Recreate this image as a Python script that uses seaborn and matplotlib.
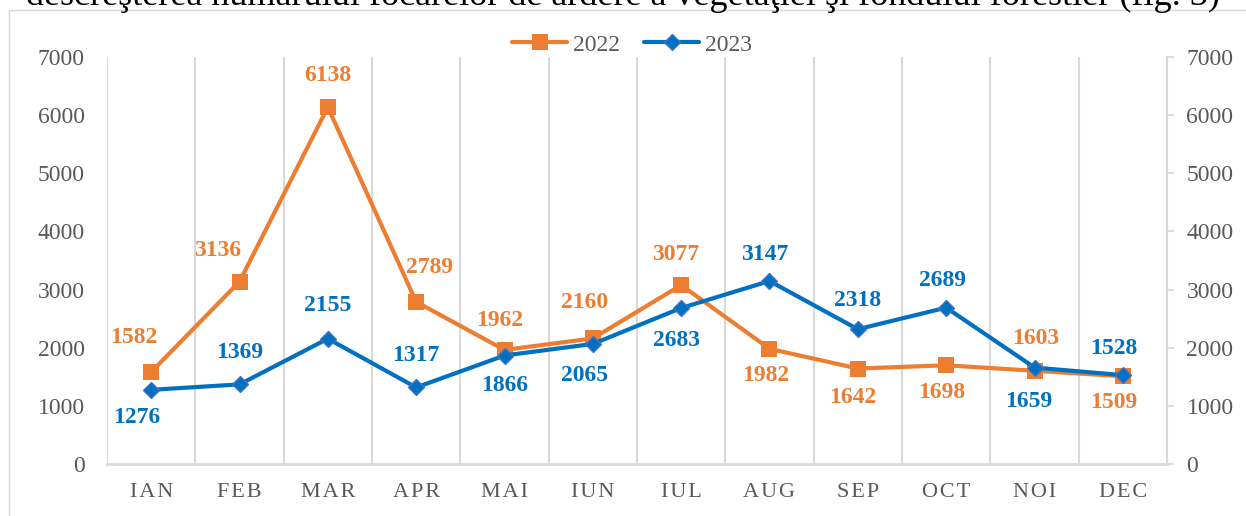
import numpy as np
import pandas as pd
import matplotlib
matplotlib.use("Agg")
import matplotlib.pyplot as plt
import seaborn as sns
from matplotlib.patches import Rectangle


# =========================
# DATA
# =========================
months = ["IAN", "FEB", "MAR", "APR", "MAI", "IUN", "IUL", "AUG", "SEP", "OCT", "NOI", "DEC"]
fires_2022 = [1582, 3136, 6138, 2789, 1962, 2160, 3077, 1982, 1642, 1698, 1603, 1509]
fires_2023 = [1276, 1369, 2155, 1317, 1866, 2065, 2683, 3147, 2318, 2689, 1659, 1528]
y_ticks = [0, 1000, 2000, 3000, 4000, 5000, 6000, 7000]
series_names = ["2022", "2023"]
caption = "descreşterea numărului focarelor de ardere a vegetaţiei şi fondului forestier (fig. 3)"

# label placement, pixels from the point (dx, dy), dy > 0 means below
offsets_2022 = [(-17, -35), (-22, -31), (0, -32), (13, -34), (-5, -29), (-8, -36),
                (-5, -31), (-4, 27), (-5, 29), (-4, 27), (1, -32), (-9, 26)]
offsets_2023 = [(-14, 28), (0, -32), (0, -33), (0, -32), (0, 30), (-8, 32),
                (-5, 32), (-5, -27), (0, -29), (-4, -27), (-6, 34), (-9, -27)]

ORANGE = "#ED7D31"
BLUE = "#0070C0"
GRID = "#D9D9D9"
TXT = "#595959"

sns.set_theme(style="white")
plt.rcParams["font.family"] = ["Liberation Serif", "DejaVu Serif"]

df = pd.DataFrame({
    "luna": months * 2,
    "focare": fires_2022 + fires_2023,
    "an": [series_names[0]] * len(months) + [series_names[1]] * len(months),
})

W, H = 1246, 516
fig = plt.figure(figsize=(W / 100, H / 100), dpi=100)
ax = fig.add_axes([107 / W, 1 - 464 / H, 1060 / W, 407 / H])

sns.lineplot(data=df[df["an"] == "2022"], x="luna", y="focare", sort=False,
             color=ORANGE, linewidth=3, marker="s", markersize=12,
             markeredgecolor=ORANGE, markeredgewidth=0, label="2022", ax=ax)
sns.lineplot(data=df[df["an"] == "2023"], x="luna", y="focare", sort=False,
             color=BLUE, linewidth=3, marker="D", markersize=8.5,
             markeredgecolor="#4472C4", markeredgewidth=1, label="2023", ax=ax)

# data labels
for vals, offs, col in [(fires_2022, offsets_2022, ORANGE), (fires_2023, offsets_2023, BLUE)]:
    for i, (v, (dx, dy)) in enumerate(zip(vals, offs)):
        ax.annotate(str(v), (i, v), xytext=(dx * 0.72, -dy * 0.72),
                    textcoords="offset points", ha="center", va="center",
                    fontsize=17, fontweight="bold", color=col)

# axes styling
ax.set_xlim(-0.5, len(months) - 0.5)
ax.set_ylim(0, 7000)
ax.set_yticks(y_ticks)
ax.set_xticks(range(len(months)))
ax.set_xticklabels(["\u200a".join(m) for m in months])
ax.set_xticks(np.arange(-0.5, len(months), 1), minor=True)
ax.grid(False)
ax.grid(which="minor", axis="x", color=GRID, linewidth=1.5)
ax.set_axisbelow(True)
ax.set_xlabel("")
ax.set_ylabel("")
ax.tick_params(axis="x", which="both", length=0, pad=14, labelsize=16, labelcolor=TXT)
ax.tick_params(axis="y", length=0, pad=16, labelsize=17, labelcolor=TXT)
for s in ["left", "top", "right"]:
    ax.spines[s].set_visible(False)
ax.spines["bottom"].set_color(GRID)
ax.spines["bottom"].set_linewidth(2)

ax2 = ax.twinx()
ax2.set_ylim(0, 7000)
ax2.set_yticks(y_ticks)
ax2.tick_params(axis="y", length=5, width=1.2, color=GRID, pad=9, labelsize=17, labelcolor=TXT)
for s in ["left", "top", "bottom"]:
    ax2.spines[s].set_visible(False)
ax2.spines["right"].set_color(GRID)
ax2.spines["right"].set_linewidth(1.5)
ax2.grid(False)

# legend at the top
handles, labels = ax.get_legend_handles_labels()
if ax.get_legend() is not None:
    ax.get_legend().remove()
leg = fig.legend(handles, labels, loc="center", bbox_to_anchor=(632 / W, 1 - 45 / H),
                 ncol=2, frameon=False, fontsize=17, handlelength=2.35,
                 handletextpad=0.25, columnspacing=1.0)
for t in leg.get_texts():
    t.set_color(TXT)

# chart frame and cut-off caption line above it
fig.patches.append(Rectangle((9 / W, -0.1), 1.2, 1 - 10 / H + 0.1, transform=fig.transFigure,
                             fill=False, edgecolor=GRID, linewidth=1))
fig.text(0.5, 1 - 5 / H, caption, ha="center", va="baseline", fontsize=26, color="black")

fig.savefig("out.png", dpi=100)
